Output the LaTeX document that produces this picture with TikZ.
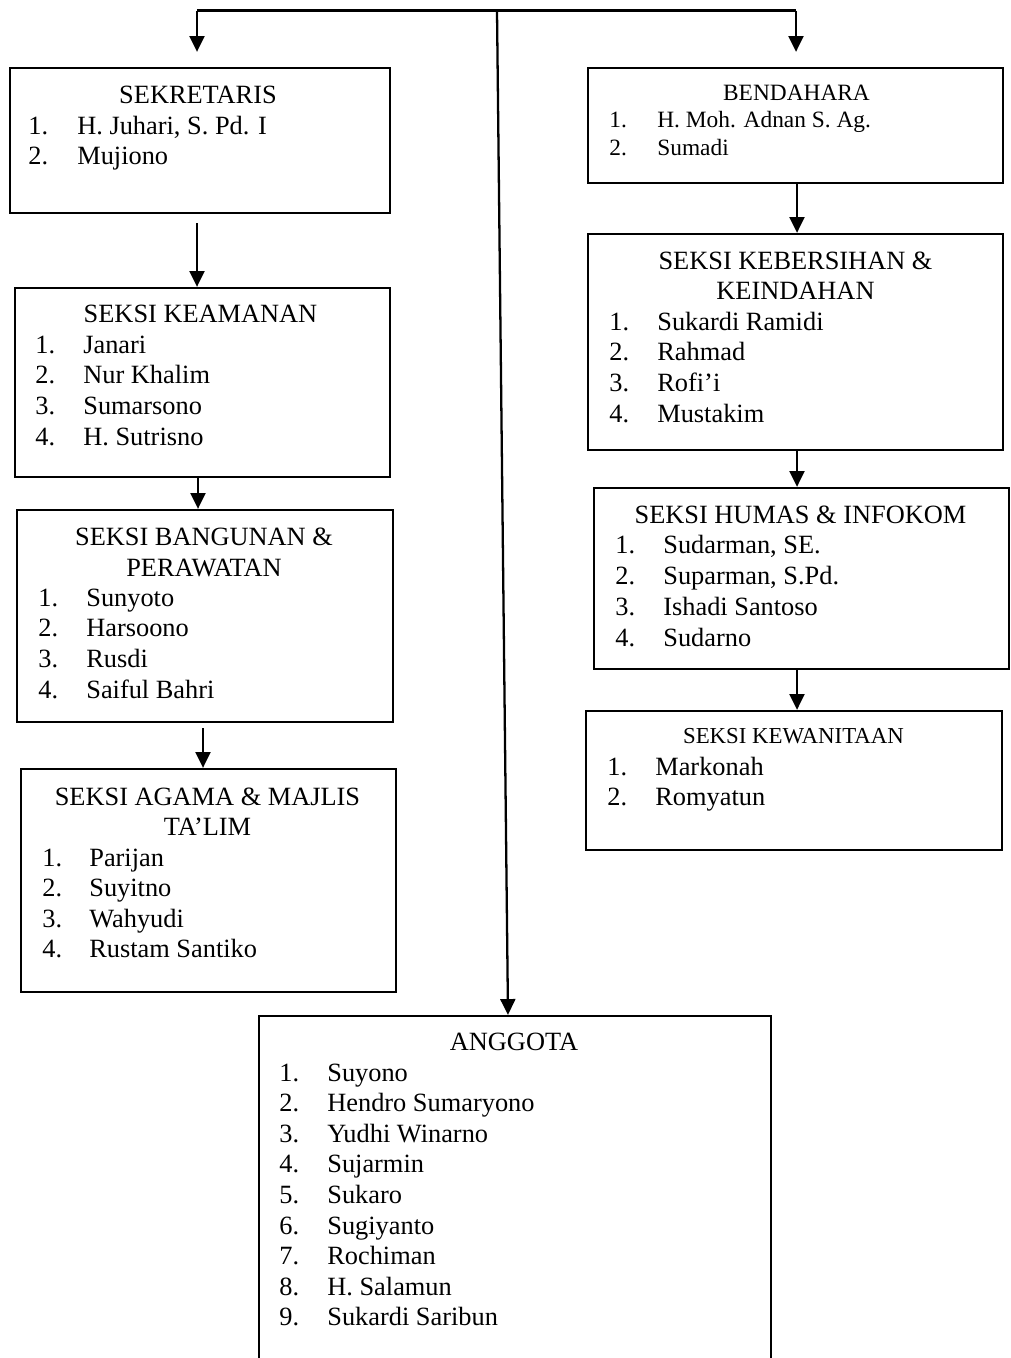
\documentclass[tikz,border=0pt]{standalone}
\usepackage{fontspec}
\setmainfont{Liberation Serif}
\usetikzlibrary{arrows.meta}

\begin{document}
\begin{tikzpicture}[
  box/.style={draw,rectangle,line width=1.3pt,inner sep=0pt},
  conn/.style={line width=1.3pt},
  arr/.style={line width=1.3pt,-{Triangle[width=8.5pt,length=9pt]}},
  ttl/.style={anchor=base,inner sep=0pt,font=\fontsize{15}{18}\selectfont},
  itm/.style={anchor=base west,inner sep=0pt,font=\fontsize{15}{18}\selectfont},
  sml/.style={font=\fontsize{13.3}{16}\selectfont}]
\useasboundingbox (0,0) rectangle (20.2,-27.16);
\clip (0,0) rectangle (20.2,-27.16);
% left column
\node[box,minimum width=7.6cm,minimum height=2.9cm] (sek) at (4.0,-2.81) {};
\node[ttl] (sekT) at (3.96,-2.06) {SEKRETARIS};
\foreach \nm [count=\i] in {{H. Juhari, S. Pd. I},Mujiono} {
  \node[itm] (sekN\i) at (0.56,{-2.68-0.6*(\i-1)}) {\i.};
  \node[itm] (sek\i) at (1.54,{-2.68-0.6*(\i-1)}) {\nm};
}
\node[box,minimum width=7.5cm,minimum height=3.78cm] (kea) at (4.05,-7.65) {};
\node[ttl] (keaT) at (4.01,-6.44) {SEKSI KEAMANAN};
\foreach \nm [count=\i] in {Janari,Nur Khalim,Sumarsono,H. Sutrisno} {
  \node[itm] (keaN\i) at (0.70,{-7.06-0.614*(\i-1)}) {\i.};
  \node[itm] (kea\i) at (1.66,{-7.06-0.614*(\i-1)}) {\nm};
}
\node[box,minimum width=7.52cm,minimum height=4.24cm] (ban) at (4.1,-12.32) {};
\node[ttl] (banT) at (4.08,-10.90) {SEKSI BANGUNAN \&};
\node[ttl] (banU) at (4.08,-11.52) {PERAWATAN};
\foreach \nm [count=\i] in {Sunyoto,Harsoono,Rusdi,Saiful Bahri} {
  \node[itm] (banN\i) at (0.76,{-12.12-0.614*(\i-1)}) {\i.};
  \node[itm] (ban\i) at (1.72,{-12.12-0.614*(\i-1)}) {\nm};
}
\node[box,minimum width=7.5cm,minimum height=4.46cm] (aga) at (4.17,-17.61) {};
\node[ttl] (agaT) at (4.15,-16.10) {SEKSI AGAMA \& MAJLIS};
\node[ttl] (agaU) at (4.15,-16.70) {TA’LIM};
\foreach \nm [count=\i] in {Parijan,Suyitno,Wahyudi,Rustam Santiko} {
  \node[itm] (agaN\i) at (0.84,{-17.32-0.61*(\i-1)}) {\i.};
  \node[itm] (aga\i) at (1.78,{-17.32-0.61*(\i-1)}) {\nm};
}
% right column
\node[box,minimum width=8.3cm,minimum height=2.3cm] (ben) at (15.91,-2.51) {};
\node[ttl,sml] (benT) at (15.93,-2.0) {BENDAHARA};
\foreach \nm [count=\i] in {H. Moh. Adnan S. Ag.,Sumadi} {
  \node[itm,sml] (benN\i) at (12.18,{-2.54-0.56*(\i-1)}) {\i.};
  \node[itm,sml] (ben\i) at (13.14,{-2.54-0.56*(\i-1)}) {\nm};
}
\node[box,minimum width=8.3cm,minimum height=4.32cm] (keb) at (15.91,-6.84) {};
\node[ttl] (kebT) at (15.91,-5.38) {SEKSI KEBERSIHAN \&};
\node[ttl] (kebU) at (15.91,-5.98) {KEINDAHAN};
\foreach \nm [count=\i] in {Sukardi Ramidi,Rahmad,Rofi’i,Mustakim} {
  \node[itm] (kebN\i) at (12.18,{-6.60-0.615*(\i-1)}) {\i.};
  \node[itm] (keb\i) at (13.14,{-6.60-0.615*(\i-1)}) {\nm};
}
\node[box,minimum width=8.3cm,minimum height=3.62cm] (hum) at (16.03,-11.57) {};
\node[ttl] (humT) at (16.01,-10.46) {SEKSI HUMAS \& INFOKOM};
\foreach \nm [count=\i] in {{Sudarman, SE.},{Suparman, S.Pd.},Ishadi Santoso,Sudarno} {
  \node[itm] (humN\i) at (12.30,{-11.06-0.62*(\i-1)}) {\i.};
  \node[itm] (hum\i) at (13.26,{-11.06-0.62*(\i-1)}) {\nm};
}
\node[box,minimum width=8.32cm,minimum height=2.78cm] (kew) at (15.88,-15.61) {};
\node[ttl,font=\fontsize{13}{16}\selectfont] (kewT) at (15.87,-14.86) {SEKSI KEWANITAAN};
\foreach \nm [count=\i] in {Markonah,Romyatun} {
  \node[itm] (kewN\i) at (12.14,{-15.5-0.6*(\i-1)}) {\i.};
  \node[itm] (kew\i) at (13.10,{-15.5-0.6*(\i-1)}) {\nm};
}
% bottom
\node[box,minimum width=10.24cm,minimum height=7.08cm] (ang) at (10.3,-23.86) {};
\node[ttl] (angT) at (10.28,-21.0) {ANGGOTA};
\foreach \nm [count=\i] in {Suyono,Hendro Sumaryono,Yudhi Winarno,Sujarmin,Sukaro,Sugiyanto,Rochiman,H. Salamun,Sukardi Saribun} {
  \node[itm] (angN\i) at (5.58,{-21.62-0.612*(\i-1)}) {\i.};
  \node[itm] (ang\i) at (6.54,{-21.62-0.612*(\i-1)}) {\nm};
}
% connectors
\coordinate (tl) at (3.94,-0.21);
\coordinate (tc) at (9.94,-0.21);
\coordinate (tr) at (15.92,-0.21);
\draw[conn] (tl) -- (tr);
\draw[arr,shorten >=0.3cm] (tl) -- (tl |- sek.north);
\draw[arr,shorten >=0.3cm] (tr) -- (tr |- ben.north);
\draw[arr] (tc) -- ([xshift=-0.14cm]ang.north);
\draw[arr] ([shift={(-0.06,-0.18)}]sek.south) -- ([xshift=-0.06cm]sek.south |- kea.north);
\draw[arr] ([xshift=-0.09cm]kea.south) -- ([xshift=-0.09cm]kea.south |- ban.north);
\draw[arr] ([shift={(-0.04,-0.1)}]ban.south) -- ([xshift=-0.04cm]ban.south |- aga.north);
\draw[arr] ([xshift=0.03cm]ben.south) -- ([xshift=0.03cm]ben.south |- keb.north);
\draw[arr] ([xshift=0.03cm]keb.south) -- ([xshift=0.03cm]keb.south |- hum.north);
\draw[arr] ([xshift=-0.09cm]hum.south) -- ([xshift=-0.09cm]hum.south |- kew.north);
\end{tikzpicture}
\end{document}
